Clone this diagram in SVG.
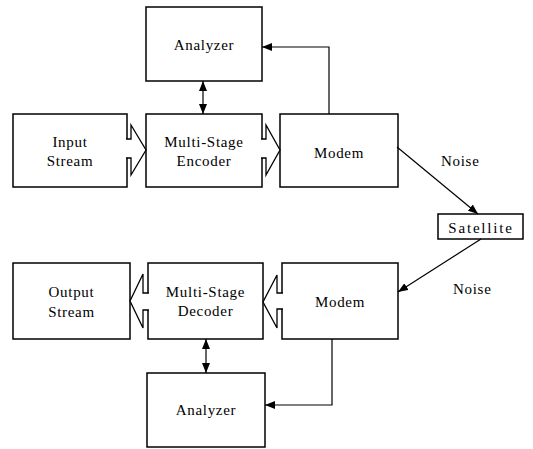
<svg xmlns="http://www.w3.org/2000/svg" width="533" height="449" viewBox="0 0 533 449">
<style>
.box{fill:#fff;stroke:#000;stroke-width:1.5}
.blk{fill:#fff;stroke:#000;stroke-width:1.3;stroke-linejoin:miter}
.ln{fill:none;stroke:#000;stroke-width:1.2}
text{font-family:"Liberation Serif","Times New Roman",serif;font-size:15px;fill:#000;letter-spacing:0.7px}
.c{text-anchor:middle}
</style>
<defs>
<marker id="ah" markerUnits="userSpaceOnUse" markerWidth="10" markerHeight="8" refX="10" refY="4" orient="auto-start-reverse">
<path d="M0,0 L10,4 L0,8 z" fill="#000"/>
</marker>
</defs>
<rect width="533" height="449" fill="#fff"/>
<g id="analyzer-top"><rect class="box" x="146" y="7" width="116" height="74"/><text class="c" x="204" y="50">Analyzer</text></g>
<g id="input-stream"><rect class="box" x="13" y="114" width="114" height="73"/><text class="c" x="70" y="147">Input</text><text class="c" x="70" y="166">Stream</text></g>
<g id="encoder"><rect class="box" x="146" y="114" width="116" height="73"/><text class="c" x="204" y="147">Multi-Stage</text><text class="c" x="204" y="166">Encoder</text></g>
<g id="modem-top"><rect class="box" x="280" y="114" width="118" height="73"/><text class="c" x="339" y="158">Modem</text></g>
<g id="satellite"><rect class="box" x="438" y="214" width="85" height="25"/><text class="c" x="481" y="233" style="letter-spacing:1.8px">Satellite</text></g>
<g id="output-stream"><rect class="box" x="13" y="263" width="117" height="76"/><text class="c" x="71.5" y="297">Output</text><text class="c" x="71.5" y="317">Stream</text></g>
<g id="decoder"><rect class="box" x="148" y="263" width="115" height="76"/><text class="c" x="205.5" y="297">Multi-Stage</text><text class="c" x="205.5" y="316">Decoder</text></g>
<g id="modem-bottom"><rect class="box" x="282" y="263" width="116" height="76"/><text class="c" x="340" y="307">Modem</text></g>
<g id="analyzer-bottom"><rect class="box" x="147" y="373" width="118" height="74"/><text class="c" x="206" y="415">Analyzer</text></g>
<g id="connectors">
<path class="blk" d="M126,139 L131,139 L131,125 L146,150 L131,175 L131,158 L126,158"/>
<path class="blk" d="M261,139 L266,139 L266,125 L280,150 L266,175 L266,158 L261,158"/>
<path class="blk" d="M149,293 L143,293 L143,274 L130,301 L143,328 L143,310 L149,310"/>
<path class="blk" d="M283,293 L277,293 L277,275 L263,302 L277,328 L277,309 L283,309"/>
<line class="ln" x1="203" y1="81" x2="203" y2="114" marker-start="url(#ah)" marker-end="url(#ah)"/>
<line class="ln" x1="206" y1="339" x2="206" y2="373" marker-start="url(#ah)" marker-end="url(#ah)"/>
<path class="ln" d="M329,114 L329,47 L262,47" marker-end="url(#ah)"/>
<path class="ln" d="M332,339 L332,405 L265,405" marker-end="url(#ah)"/>
<line class="ln" x1="397" y1="147" x2="478" y2="214" marker-end="url(#ah)"/>
<line class="ln" x1="481" y1="239" x2="398" y2="292" marker-end="url(#ah)"/>
<text x="441" y="166">Noise</text>
<text x="453" y="294">Noise</text>
</g>
</svg>
